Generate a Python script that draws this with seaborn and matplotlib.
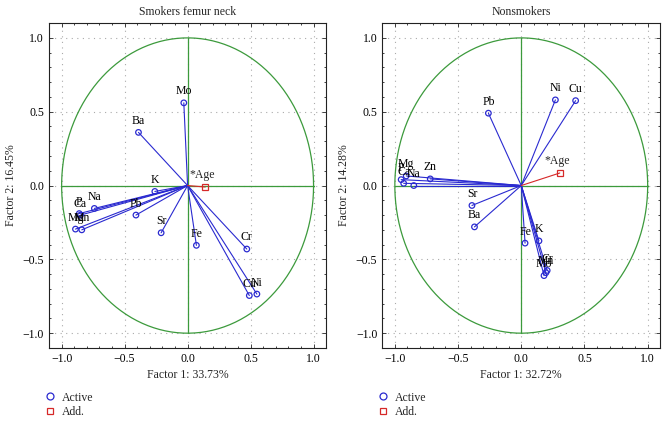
import numpy as np
import matplotlib
matplotlib.use("Agg")
import matplotlib.pyplot as plt
from matplotlib.ticker import MultipleLocator
from matplotlib.lines import Line2D
import seaborn as sns

sns.set_theme(style="ticks")
plt.rcParams["font.family"] = ["Liberation Serif", "DejaVu Serif"]

# ---- data (factor loadings) ----
smk_labels = ["Mo", "Ba", "K", "Na", "P", "Ca", "Mg", "Mn", "Pb", "Sr", "Fe", "Cr", "Cu", "Ni"]
smk_f1 = [-0.03, -0.39, -0.26, -0.74, -0.86, -0.85, -0.89, -0.84, -0.41, -0.21, 0.07, 0.47, 0.49, 0.55]
smk_f2 = [0.56, 0.36, -0.04, -0.155, -0.19, -0.20, -0.295, -0.30, -0.20, -0.32, -0.405, -0.43, -0.745, -0.735]
smk_age = (0.14, -0.01)

non_labels = ["Mg", "P", "Ca", "Na", "Zn", "Pb", "Ni", "Cu", "Sr", "Ba", "Fe", "K", "Cr", "Mn", "Mo"]
non_f1 = [-0.91, -0.95, -0.93, -0.85, -0.72, -0.26, 0.27, 0.43, -0.39, -0.37, 0.03, 0.14, 0.205, 0.195, 0.18]
non_f2 = [0.065, 0.04, 0.015, 0.0, 0.045, 0.49, 0.58, 0.575, -0.135, -0.28, -0.39, -0.375, -0.575, -0.59, -0.61]
non_age = (0.305, 0.085)

panels = [
    ("Smokers femur neck", "Factor 1: 33.73%", "Factor 2: 16.45%", smk_labels, smk_f1, smk_f2, smk_age),
    ("Nonsmokers", "Factor 1: 32.72%", "Factor 2: 14.28%", non_labels, non_f1, non_f2, non_age),
]

BLUE = "#2a2ad0"
RED = "#d62828"
GREEN = "#3c9a3c"

fig = plt.figure(figsize=(6.67, 4.28), dpi=100)
axes = [fig.add_axes([0.0735, 0.187, 0.4155, 0.759]),
        fig.add_axes([0.573, 0.187, 0.417, 0.759])]

theta = np.linspace(0, 2 * np.pi, 400)
for ax, (title, xl, yl, labs, f1, f2, age) in zip(axes, panels):
    # unit circle + axes cross
    ax.plot(np.cos(theta), np.sin(theta), color=GREEN, lw=0.9, zorder=1)
    ax.plot([-1, 1], [0, 0], color=GREEN, lw=0.9, zorder=1)
    ax.plot([0, 0], [-1, 1], color=GREEN, lw=0.9, zorder=1)
    for x, y in zip(f1, f2):
        ax.plot([0, x], [0, y], color=BLUE, lw=0.8, zorder=2)
    sns.scatterplot(x=f1, y=f2, ax=ax, marker="o", s=16, facecolor="none",
                    edgecolor=BLUE, linewidth=0.9, zorder=3)
    for lab, x, y in zip(labs, f1, f2):
        ax.annotate(lab, (x, y), xytext=(0, 4), textcoords="offset points",
                    ha="center", va="bottom", fontsize=8.5, color="black")
    ax.plot([0, age[0]], [0, age[1]], color=RED, lw=0.8, zorder=2)
    ax.plot([age[0]], [age[1]], marker="s", ms=4, mfc="none", mec=RED, mew=0.9, zorder=3)
    ax.annotate("*Age", age, xytext=(-2, 4), textcoords="offset points",
                ha="center", va="bottom", fontsize=8.5)

    ax.set_xlim(-1.1, 1.1)
    ax.set_ylim(-1.1, 1.1)
    ax.xaxis.set_major_locator(MultipleLocator(0.5))
    ax.yaxis.set_major_locator(MultipleLocator(0.5))
    ax.xaxis.set_minor_locator(MultipleLocator(0.1))
    ax.yaxis.set_minor_locator(MultipleLocator(0.1))
    ax.tick_params(which="both", direction="in", top=True, right=True,
                   labelsize=8.5, width=0.6, colors="#222222", labelcolor="black")
    ax.tick_params(which="major", length=3)
    ax.tick_params(which="minor", length=1.5)
    ax.grid(True, which="major", ls=(0, (1, 4)), color="#aaaaaa", lw=0.8)
    for sp in ax.spines.values():
        sp.set_linewidth(0.8)
        sp.set_color("#222222")
    ax.set_title(title, fontsize=8.5, pad=6)
    ax.set_xlabel(xl, fontsize=8.5, labelpad=3)
    ax.set_ylabel(yl, fontsize=8.5, labelpad=4)

handles = [Line2D([], [], ls="none", marker="o", ms=5, mfc="none", mec=BLUE, mew=0.9),
           Line2D([], [], ls="none", marker="s", ms=5, mfc="none", mec=RED, mew=0.9)]
for x0 in (0.066, 0.565):
    fig.legend(handles, ["Active", "Add."], loc="upper left", bbox_to_anchor=(x0, 0.085),
               frameon=False, fontsize=8.5, handlelength=1.0, handletextpad=0.5,
               labelspacing=0.2, borderpad=0, borderaxespad=0)

fig.savefig("out.png", dpi=100)
